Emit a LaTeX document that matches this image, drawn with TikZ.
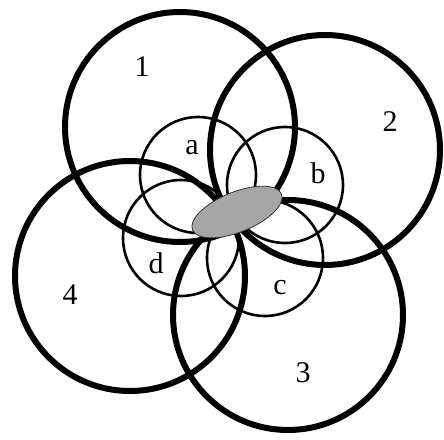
\documentclass[tikz,border=0pt]{standalone}
\usepackage{fontspec}
\setmainfont{Liberation Serif}
\usetikzlibrary{positioning}
\definecolor{coregray}{RGB}{166,166,166}

\begin{document}
\begin{tikzpicture}[x=1pt, y=-1pt,
    bigring/.style={draw=black, line width=6pt},
    smallring/.style={draw=black, line width=2.6pt},
    core/.style={draw=black!80, line width=0.8pt, fill=coregray},
    lab/.style={anchor=base, inner sep=0pt, font=\fontsize{30}{30}\selectfont}]
    \useasboundingbox (0,0) rectangle (444,439);

    % Small rings a, b, c, d
    \foreach \x/\y in {198/175, 285/185, 265/258, 181/238} {
        \draw[smallring] (\x,\y) circle (58pt);
    }

    % Big rings 1, 2, 3, 4
    \foreach \x/\y in {180/127, 325/150, 288/315, 130/276} {
        \draw[bigring] (\x,\y) circle (115pt);
    }

    % Core in the middle
    \draw[core, rotate around={22:(237,212)}] (237,212) ellipse (48pt and 20pt);

    % Labels
    \node[lab] (lab1) at (142,76) {1};
    \node[lab] (lab2) at (390,131) {2};
    \node[lab] (lab3) at (303,382) {3};
    \node[lab] (lab4) at (70,304) {4};
    \node[lab] (laba) at (192,154) {a};
    \node[lab] (labb) at (318,183) {b};
    \node[lab] (labc) at (280,294) {c};
    \node[lab] (labd) at (156,273) {d};
\end{tikzpicture}
\end{document}
